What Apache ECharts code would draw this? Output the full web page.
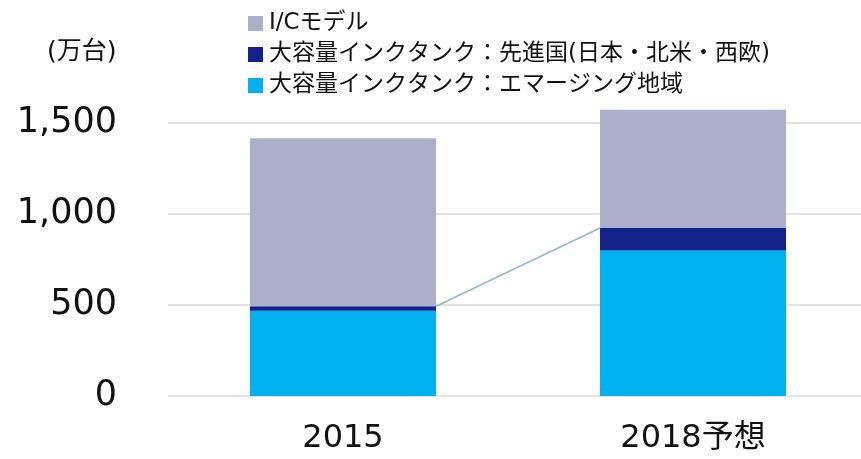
<!DOCTYPE html>
<html><head><meta charset="utf-8">
<script src="https://cdn.jsdelivr.net/npm/echarts@6/dist/echarts.min.js"></script>
<style>html,body{margin:0;padding:0;background:#fff}#c{width:861px;height:459px}</style>
</head><body><div id="c"></div>
<script>
var categories = ['2015', '2018予想'];
var emerging = [469, 799];
var developed = [24, 124];
var icModel = [923, 650];
var yTicks = [0, 500, 1000, 1500];
var seriesNames = ['I/Cモデル', '大容量インクタンク：先進国(日本・北米・西欧)', '大容量インクタンク：エマージング地域'];

var FONT = '"DejaVu Sans", "Noto Sans CJK JP", sans-serif';
var BAR_W = 186;
var devTop = emerging.map(function (v, i) { return v + developed[i]; });

var chart = echarts.init(document.getElementById('c'));
chart.setOption({
  animation: false,
  textStyle: { fontFamily: FONT },
  grid: { left: 168, width: 700, top: 123, height: 273, outerBoundsMode: 'none', containLabel: false },
  legend: {
    orient: 'vertical', left: 243, top: 7,
    itemWidth: 15, itemHeight: 15, itemGap: 8,
    icon: 'rect',
    data: [seriesNames[0], seriesNames[1], seriesNames[2]],
    textStyle: { fontSize: 23, color: '#111', fontFamily: FONT, padding: [0, 0, 0, 1] }
  },
  graphic: [{
    type: 'text', left: 47, top: 40,
    style: { text: '(万台)', font: '25px ' + FONT, fill: '#111' }
  }],
  xAxis: {
    type: 'category', data: categories,
    axisLine: { show: false }, axisTick: { show: false },
    axisLabel: { fontSize: 32, color: '#111', margin: 27, fontFamily: FONT }
  },
  yAxis: {
    type: 'value', min: yTicks[0], max: yTicks[yTicks.length - 1], interval: 500,
    axisLine: { show: false }, axisTick: { show: false },
    axisLabel: {
      fontSize: 35, color: '#111', margin: 51, fontFamily: FONT,
      formatter: function (v) { return v.toLocaleString('en-US'); }
    },
    splitLine: { lineStyle: { color: '#d9d9d9', width: 1.5 } }
  },
  series: [
    { name: seriesNames[2], type: 'bar', stack: 't', data: emerging, barWidth: BAR_W, clip: false,
      itemStyle: { color: '#00b0ef' } },
    { name: seriesNames[1], type: 'bar', stack: 't', data: developed, barWidth: BAR_W, clip: false,
      itemStyle: { color: '#13218a' } },
    { name: seriesNames[0], type: 'bar', stack: 't', data: icModel, barWidth: BAR_W, clip: false,
      itemStyle: { color: '#abb0c8' } },
    {
      type: 'custom', silent: true, clip: false, z: 3,
      data: [[0, devTop[0], 1, devTop[1]]],
      renderItem: function (params, api) {
        var p0 = api.coord([api.value(0), api.value(1)]);
        var p1 = api.coord([api.value(2), api.value(3)]);
        return {
          type: 'line',
          shape: { x1: p0[0] + BAR_W / 2, y1: p0[1], x2: p1[0] - BAR_W / 2, y2: p1[1] },
          style: { stroke: '#8fbcc8', lineWidth: 1.5 }
        };
      }
    }
  ]
});
</script></body></html>
